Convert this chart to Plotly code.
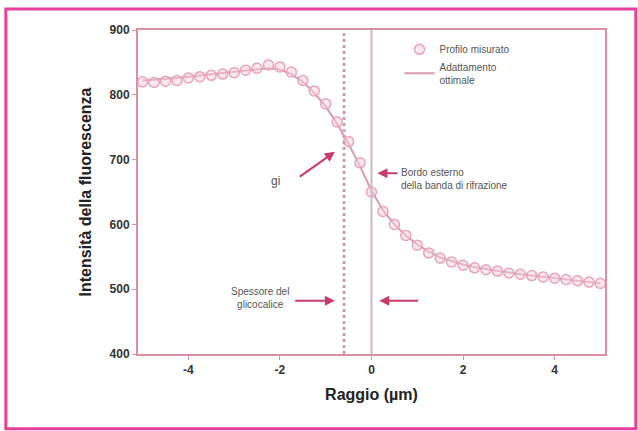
import plotly.graph_objects as go

raggio = [-5, -4.75, -4.5, -4.25, -4, -3.75, -3.5, -3.25, -3, -2.75, -2.5, -2.25, -2,
          -1.75, -1.5, -1.25, -1, -0.75, -0.5, -0.25, 0, 0.25, 0.5, 0.75, 1, 1.25, 1.5,
          1.75, 2, 2.25, 2.5, 2.75, 3, 3.25, 3.5, 3.75, 4, 4.25, 4.5, 4.75, 5]
profilo = [820, 819, 821, 822, 826, 828, 830, 832, 834, 838, 841, 846, 843,
           835, 822, 806, 786, 758, 728, 695, 650, 620, 600, 583, 568, 556, 548,
           542, 537, 533, 530, 528, 525, 523, 521, 519, 517, 515, 513, 511, 509]
adattamento = [822, 823, 824, 826, 828, 830, 832, 834, 836, 838, 840, 841, 839,
               832, 820, 803, 782, 755, 724, 690, 652, 622, 600, 583, 569, 558, 549,
               543, 538, 534, 531, 528, 525, 523, 521, 519, 517, 515, 513, 511, 509]

x_bordo_glicocalice = -0.6
x_membrana = 0
x_ticks = [-4, -2, 0, 2, 4]
x_ticklabels = ["-4", "-2", "0", "2", "4"]
y_ticks = [400, 500, 600, 700, 800, 900]

pink = "#e7a3ba"
arrow = "#c83c68"
txt = "#555555"

fig = go.Figure()
fig.add_trace(go.Scatter(x=raggio, y=adattamento, mode="lines",
                         line=dict(color="#d99aae", width=2),
                         name="Adattamento<br>ottimale"))
fig.add_trace(go.Scatter(x=raggio, y=profilo, mode="markers",
                         marker=dict(symbol="circle", size=10, color="rgba(245,210,222,0.5)",
                                     line=dict(color=pink, width=1.5)),
                         name="Profilo misurato"))

fig.add_shape(type="line", x0=x_bordo_glicocalice, x1=x_bordo_glicocalice, y0=400, y1=900,
              line=dict(color="#c9a2ad", width=3, dash="dot"))
fig.add_shape(type="line", x0=x_membrana, x1=x_membrana, y0=400, y1=900,
              line=dict(color="#cbbcc1", width=2))

# outer frame
fig.add_shape(type="rect", xref="paper", yref="paper", x0=-0.283, x1=1.066, y0=-0.231, y1=1.065,
              line=dict(color="#e8409a", width=3))

ann_font = dict(family="Liberation Sans, Arial", size=10, color=txt)
fig.add_annotation(x=-0.8, y=712, ax=-1.6, ay=672, axref="x", ayref="y",
                   text="", showarrow=True, arrowhead=2, arrowsize=1, arrowwidth=2, arrowcolor=arrow)
fig.add_annotation(x=-2.1, y=667, text="gi", showarrow=False, font=dict(family="Liberation Sans, Arial", size=12, color=txt))
fig.add_annotation(x=0.13, y=679, ax=0.6, ay=679, axref="x", ayref="y",
                   text="", showarrow=True, arrowhead=2, arrowsize=1, arrowwidth=2, arrowcolor=arrow)
fig.add_annotation(x=0.6, y=670, text="Bordo esterno<br>della banda di rifrazione", showarrow=False,
                   xanchor="left", align="left", font=ann_font)
fig.add_annotation(x=-0.8, y=482, ax=-1.7, ay=482, axref="x", ayref="y",
                   text="", showarrow=True, arrowhead=2, arrowsize=1, arrowwidth=2, arrowcolor=arrow)
fig.add_annotation(x=0.17, y=482, ax=1.05, ay=482, axref="x", ayref="y",
                   text="", showarrow=True, arrowhead=2, arrowsize=1, arrowwidth=2, arrowcolor=arrow)
fig.add_annotation(x=-1.75, y=487, text="Spessore del<br>glicocalice", showarrow=False,
                   xanchor="right", align="center", font=ann_font)

fig.update_layout(
    width=638, height=431,
    margin=dict(l=138, r=33, t=30, b=77),
    paper_bgcolor="white", plot_bgcolor="white",
    font=dict(family="Liberation Sans, Arial", color="#222222"),
    showlegend=True,
    legend=dict(x=0.56, y=0.985, xanchor="left", yanchor="top", bgcolor="rgba(0,0,0,0)",
                font=dict(size=10, color=txt), traceorder="reversed", itemwidth=30),
    xaxis=dict(range=[-5.1, 5.1], tickvals=x_ticks, ticktext=["<b>%s</b>" % t for t in x_ticklabels],
               showgrid=False, zeroline=False,
               showline=True, mirror=True, linecolor="#dc8ea2", linewidth=2,
               ticks="outside", ticklen=4, tickcolor="#dc8ea2",
               tickfont=dict(size=12, color="#333333"),
               title=dict(text="<b>Raggio (µm)</b>", font=dict(size=16, color="#222222"), standoff=12)),
    yaxis=dict(range=[400, 900], tickvals=y_ticks, ticktext=["<b>%d</b>" % t for t in y_ticks],
               showgrid=False, zeroline=False,
               showline=True, mirror=True, linecolor="#dc8ea2", linewidth=2,
               ticks="outside", ticklen=4, tickcolor="#dc8ea2",
               tickfont=dict(size=12, color="#333333"),
               title=dict(text="<b>Intensità della fluorescenza</b>", font=dict(size=16, color="#222222"), standoff=14)),
)

fig.write_html("out.html")
